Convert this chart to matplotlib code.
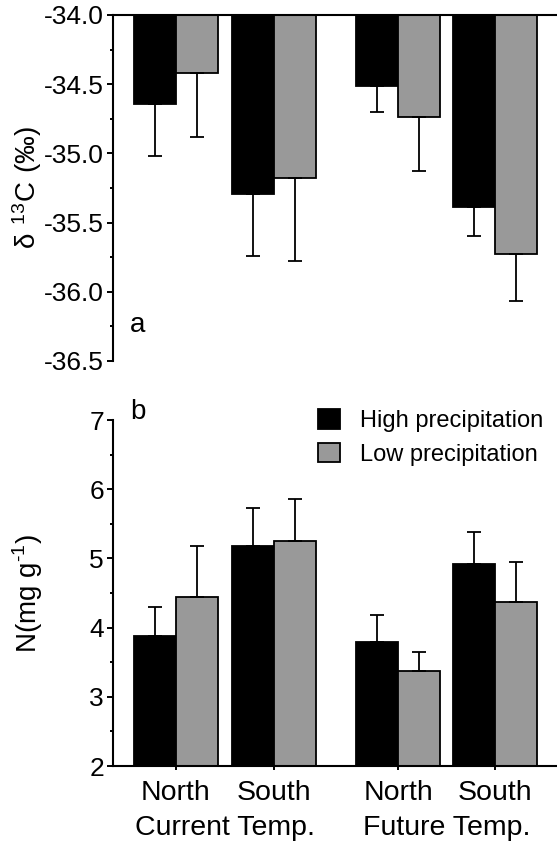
import numpy as np
import matplotlib
matplotlib.use('Agg')
import matplotlib.pyplot as plt
from matplotlib.ticker import MultipleLocator
from matplotlib.patches import Patch

plt.rcParams['font.family'] = ['Liberation Sans', 'DejaVu Sans']

# group labels and positions (gap between current and future temps)
sites = ['North', 'South', 'North', 'South']
temps = ['Current Temp.', 'Future Temp.']
xpos = np.array([0.0, 1.0, 2.27, 3.26])

# panel a: delta 13C (per mil)
d13c_high = np.array([-34.64, -35.29, -34.51, -35.39])
d13c_high_err = np.array([0.38, 0.45, 0.19, 0.21])
d13c_low = np.array([-34.42, -35.18, -34.74, -35.73])
d13c_low_err = np.array([0.46, 0.60, 0.39, 0.34])

# panel b: N (mg g-1)
n_high = np.array([3.88, 5.18, 3.79, 4.92])
n_high_err = np.array([0.42, 0.55, 0.39, 0.46])
n_low = np.array([4.44, 5.25, 3.37, 4.37])
n_low_err = np.array([0.74, 0.61, 0.28, 0.58])

HIGH_C = 'black'
LOW_C = '#999999'
W = 0.43
FS = 19
FS_X = 20.5

fig = plt.figure(figsize=(5.57, 8.52), dpi=100)
fig.patch.set_facecolor('white')
ax_a = fig.add_axes([0.203, 0.5763, 0.797, 0.4061])
ax_b = fig.add_axes([0.203, 0.1009, 0.797, 0.4061])

bar_kw = dict(width=W, edgecolor='black', linewidth=1.3)
err_kw = dict(fmt='none', ecolor='black', elinewidth=1.3, capsize=5,
              capthick=1.3)


def style(ax):
    ax.spines['right'].set_visible(False)
    for s in ax.spines.values():
        s.set_linewidth(1.5)
    ax.tick_params(axis='y', which='major', length=4.5, width=1.4,
                   labelsize=FS, pad=2)
    ax.tick_params(axis='y', which='minor', length=2.5, width=1.4)
    ax.set_xlim(-0.64, 3.89)


# ---- panel a: bars hang down from -34
top = -34.0
ax_a.bar(xpos - W / 2, d13c_high - top, bottom=top, color=HIGH_C, **bar_kw)
ax_a.bar(xpos + W / 2, d13c_low - top, bottom=top, color=LOW_C, **bar_kw)
ax_a.errorbar(xpos - W / 2, d13c_high,
              yerr=[d13c_high_err, np.zeros(4)], **err_kw)
ax_a.errorbar(xpos + W / 2, d13c_low,
              yerr=[d13c_low_err, np.zeros(4)], **err_kw)
ax_a.set_ylim(-36.5, -34.0)
yt = np.arange(-36.5, -33.9, 0.5)
ax_a.set_yticks(yt)
ax_a.set_yticklabels([f'{v:.1f}' for v in yt])
ax_a.yaxis.set_minor_locator(MultipleLocator(0.25))
style(ax_a)
ax_a.spines['bottom'].set_visible(False)
ax_a.set_xticks([])
ax_a.set_ylabel(r'$\mathregular{\delta\ ^{13}C\ (‰)}$', fontsize=20,
                va='center')
ax_a.yaxis.set_label_coords(-0.193, 0.5)
ax_a.text(0.038, 0.104, 'a', transform=ax_a.transAxes, fontsize=20,
          va='center', ha='left')

# ---- panel b
ax_b.bar(xpos - W / 2, n_high - 2, bottom=2, color=HIGH_C, **bar_kw)
ax_b.bar(xpos + W / 2, n_low - 2, bottom=2, color=LOW_C, **bar_kw)
ax_b.errorbar(xpos - W / 2, n_high, yerr=[np.zeros(4), n_high_err], **err_kw)
ax_b.errorbar(xpos + W / 2, n_low, yerr=[np.zeros(4), n_low_err], **err_kw)
ax_b.set_ylim(2, 7)
ax_b.set_yticks(np.arange(2, 8))
ax_b.yaxis.set_minor_locator(MultipleLocator(0.5))
style(ax_b)
ax_b.spines['top'].set_visible(False)
ax_b.set_xticks(xpos)
ax_b.set_xticklabels(sites, fontsize=FS_X)
ax_b.tick_params(axis='x', length=3, width=1.4, pad=7)
ax_b.set_ylabel('N(mg g$^{\\mathregular{\u2010 1}}$)'.replace(' 1', '1'),
                fontsize=20, va='center')
ax_b.yaxis.set_label_coords(-0.193, 0.5)
for k, t in enumerate(temps):
    ax_b.text((xpos[2 * k] + xpos[2 * k + 1]) / 2, -0.18, t,
              transform=ax_b.get_xaxis_transform(), fontsize=FS_X,
              ha='center', va='center')
ax_b.text(0.038, 1.023, 'b', transform=ax_b.transAxes, fontsize=20,
          va='center', ha='left')

handles = [Patch(facecolor=HIGH_C, edgecolor='black', linewidth=1.3,
                 label='High precipitation'),
           Patch(facecolor=LOW_C, edgecolor='black', linewidth=1.3,
                 label='Low precipitation')]
ax_b.legend(handles=handles, loc='upper right', bbox_to_anchor=(1.0, 1.072),
            frameon=False, fontsize=17, handlelength=0.9, handleheight=0.9,
            handletextpad=0.85, labelspacing=0.45, borderaxespad=0.2)

fig.savefig('out.png', dpi=100, facecolor='white')
